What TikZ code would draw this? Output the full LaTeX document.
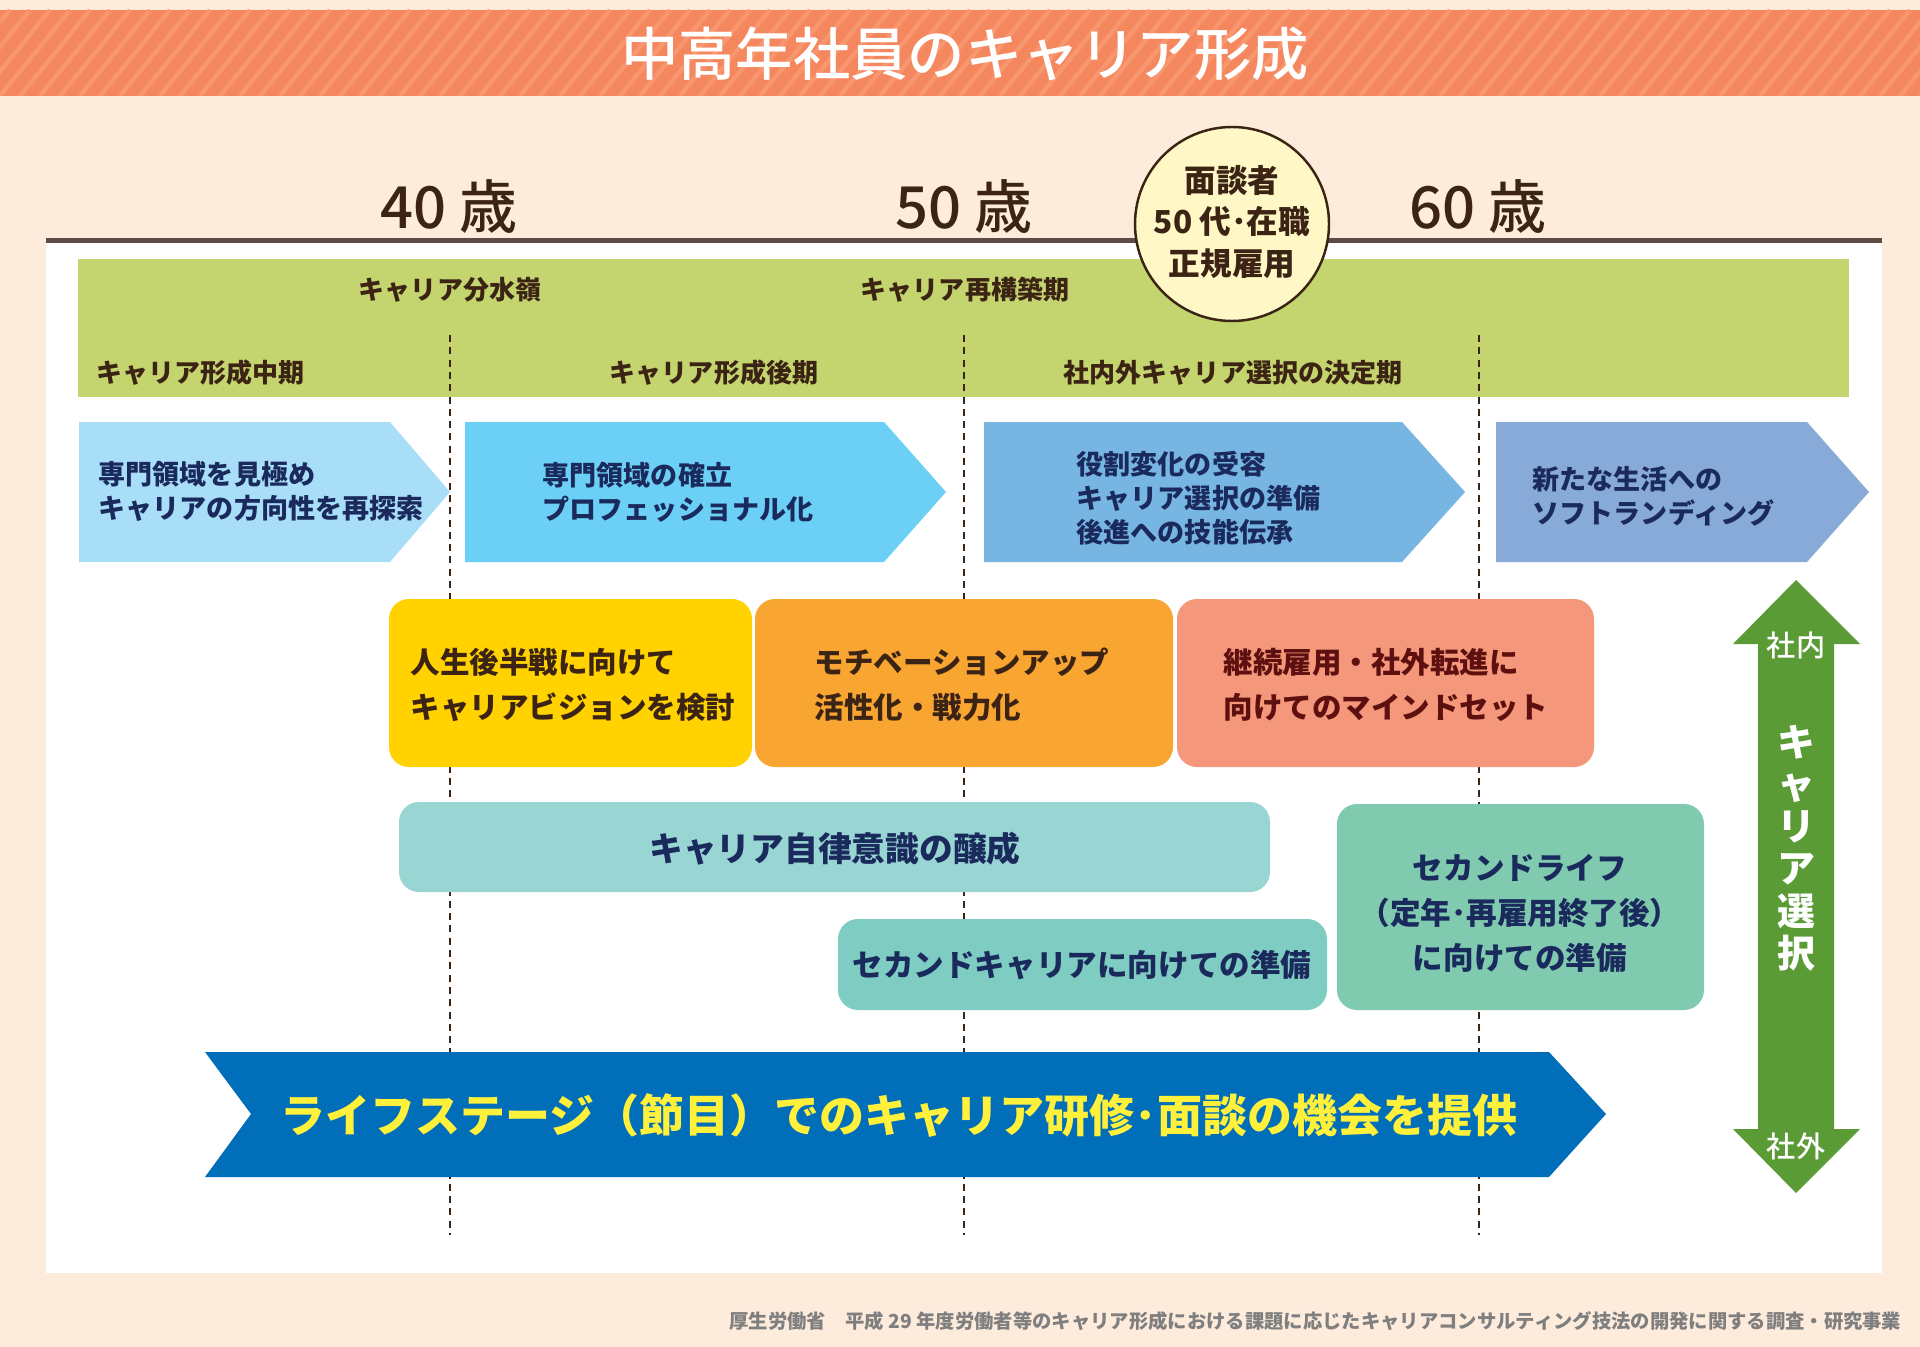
\documentclass[tikz,border=0pt]{standalone}
\usepackage{fontspec}
\setmainfont{Noto Sans CJK JP}
\newfontfamily\medio{Noto Sans CJK JP Medium}

\definecolor{crema}{HTML}{FDEBDC}
\definecolor{salmon}{HTML}{F5875F}
\definecolor{franjaclara}{HTML}{F7966F}
\definecolor{marron}{HTML}{3C2415}
\definecolor{linea}{HTML}{5B4C44}
\definecolor{verdebanda}{HTML}{C4D46E}
\definecolor{amarilloclaro}{HTML}{FFF8C6}
\definecolor{celeste1}{HTML}{A8DEF7}
\definecolor{celeste2}{HTML}{6CCFF5}
\definecolor{celeste3}{HTML}{77B5E2}
\definecolor{celeste4}{HTML}{88AAD8}
\definecolor{azultexto}{HTML}{1B2A5C}
\definecolor{amarillo}{HTML}{FFD200}
\definecolor{naranja}{HTML}{F9A532}
\definecolor{rosa}{HTML}{F5977A}
\definecolor{granate}{HTML}{5E1010}
\definecolor{turquesa1}{HTML}{98D5D3}
\definecolor{turquesa2}{HTML}{7FCDC2}
\definecolor{turquesa3}{HTML}{80CBAF}
\definecolor{azulfuerte}{HTML}{006EB8}
\definecolor{amarillotexto}{HTML}{FFF03C}
\definecolor{verde}{HTML}{5B9B36}
\definecolor{gristexto}{HTML}{7F7F7F}

\tikzset{
  txtbanda/.style={font=\bfseries\fontsize{7.4pt}{9pt}\selectfont, text=marron, inner sep=0pt},
  txtedad/.style={font=\medio\fontsize{16.5pt}{18pt}\selectfont, text=marron, inner sep=0pt},
  txtflecha/.style={font=\bfseries\fontsize{7.7pt}{9.7pt}\selectfont, text=azultexto, align=left, anchor=west, inner sep=0pt},
  txtcaja/.style={font=\bfseries\fontsize{8.4pt}{12.8pt}\selectfont, align=left, anchor=west, inner sep=0pt},
  caja/.style={rounded corners=2mm},
  guia/.style={marron, line width=0.4pt, dash pattern=on 2pt off 1.5pt}
}

\begin{document}
\begin{tikzpicture}[x=0.1mm,y=-0.1mm]
    % Fondo
    \fill[crema] (0,0) rectangle (1920,1347);
    \useasboundingbox (0,0) rectangle (1920,1347);

    % Banda del titulo
    \fill[salmon] (0,10) rectangle (1920,96);
    \begin{scope}
        \clip (0,10) rectangle (1920,96);
        \foreach \x in {-100,-80,...,1940}
            \draw[franjaclara, line width=0.45mm] (\x,96) -- (\x+70,10);
    \end{scope}
    \node[font=\medio\fontsize{16.3pt}{18pt}\selectfont, text=white, inner sep=0pt] (titulo) at (965,54) {中高年社員のキャリア形成};

    % Panel blanco y linea de edades
    \fill[white] (46,241) rectangle (1882,1273);
    \draw[linea, line width=0.5mm] (46,241) -- (1882,241);
    \node[txtedad] (edad40) at (449,207) {40 歳};
    \node[txtedad] (edad50) at (964,207) {50 歳};
    \node[txtedad] (edad60) at (1478,207) {60 歳};

    % Banda verde
    \fill[verdebanda] (78,259) rectangle (1849,397);
    \node[txtbanda] (bunsui) at (450,290) {キャリア分水嶺};
    \node[txtbanda] (saikochiku) at (965,290) {キャリア再構築期};
    \node[txtbanda, anchor=west] (chuki) at (96,373) {キャリア形成中期};
    \node[txtbanda] (koki) at (714,373) {キャリア形成後期};
    \node[txtbanda] (ketteiki) at (1233,373) {社内外キャリア選択の決定期};

    % Guias de edad
    \foreach \x in {450,964,1479}
        \draw[guia] (\x,335) -- (\x,1235);

    % Circulo de entrevistados
    \draw[marron, fill=amarilloclaro, line width=0.7pt] (1232,224) circle[radius=9.7mm];
    \node[font=\bfseries\fontsize{9pt}{11.7pt}\selectfont, text=marron, align=center, inner sep=0pt] (mendansha) at (1232,222) {面談者\\50 代･在職\\正規雇用};

    % Flechas de etapas
    \fill[celeste1] (79,422) -- (390,422) -- (450,492) -- (390,562) -- (79,562) -- cycle;
    \fill[celeste2] (465,422) -- (884,422) -- (946,492) -- (884,562) -- (465,562) -- cycle;
    \fill[celeste3] (984,422) -- (1402,422) -- (1465,492) -- (1402,562) -- (984,562) -- cycle;
    \fill[celeste4] (1496,422) -- (1807,422) -- (1869,492) -- (1807,562) -- (1496,562) -- cycle;
    \node[txtflecha] (etapa1) at (98,491) {専門領域を見極め\\キャリアの方向性を再探索};
    \node[txtflecha] (etapa2) at (542,492) {専門領域の確立\\プロフェッショナル化};
    \node[txtflecha] (etapa3) at (1076,498) {役割変化の受容\\キャリア選択の準備\\後進への技能伝承};
    \node[txtflecha] (etapa4) at (1532,496) {新たな生活への\\ソフトランディング};

    % Cajas de objetivos
    \fill[caja, amarillo] (389,599) rectangle (752,767);
    \fill[caja, naranja] (755,599) rectangle (1173,767);
    \fill[caja, rosa] (1177,599) rectangle (1594,767);
    \node[txtcaja, text=marron] (vision) at (410,685) {人生後半戦に向けて\\キャリアビジョンを検討};
    \node[txtcaja, text=marron] (motivacion) at (814,685) {モチベーションアップ\\活性化・戦力化};
    \node[txtcaja, text=granate] (mindset) at (1223,685) {継続雇用・社外転進に\\向けてのマインドセット};

    % Cajas de preparacion
    \fill[caja, turquesa1] (399,802) rectangle (1270,892);
    \fill[caja, turquesa2] (838,919) rectangle (1327,1010);
    \fill[caja, turquesa3] (1337,804) rectangle (1704,1010);
    \node[font=\bfseries\fontsize{9.6pt}{11pt}\selectfont, text=azultexto, inner sep=0pt] (jiritsu) at (835,849) {キャリア自律意識の醸成};
    \node[font=\bfseries\fontsize{8.7pt}{11pt}\selectfont, text=azultexto, inner sep=0pt] (secondcareer) at (1082,965) {セカンドキャリアに向けての準備};
    \node[font=\bfseries\fontsize{8.7pt}{12.8pt}\selectfont, text=azultexto, align=center, inner sep=0pt] (secondlife) at (1520,913) {セカンドライフ\\（定年･再雇用終了後）\\に向けての準備};

    % Flecha grande
    \fill[azulfuerte] (205,1052) -- (1549,1052) -- (1606,1114) -- (1549,1177) -- (205,1177) -- (251,1114) -- cycle;
    \node[font=\bfseries\fontsize{12.8pt}{15pt}\selectfont, text=amarillotexto, inner sep=0pt] (kikai) at (899,1116) {ライフステージ（節目）でのキャリア研修･面談の機会を提供};

    % Flecha doble de seleccion
    \fill[verde] (1796,580) -- (1860,644) -- (1834,644) -- (1834,1129) -- (1860,1129) -- (1796,1193)
        -- (1733,1129) -- (1758,1129) -- (1758,644) -- (1733,644) -- cycle;
    \node[font=\medio\fontsize{8.3pt}{10pt}\selectfont, text=white, inner sep=0pt] (shanai) at (1796,645) {社内};
    \node[font=\medio\fontsize{8.3pt}{10pt}\selectfont, text=white, inner sep=0pt] (shagai) at (1796,1146) {社外};
    \node[font=\bfseries\fontsize{10.8pt}{12pt}\selectfont, text=white, align=center, inner sep=0pt] (sentaku) at (1796,848) {キ\\ャ\\リ\\ア\\選\\択};

    % Fuente
    \node[font=\bfseries\fontsize{5.5pt}{7pt}\selectfont, text=gristexto, anchor=east, inner sep=0pt] (fuente) at (1902,1321) {厚生労働省　平成 29 年度労働者等のキャリア形成における課題に応じたキャリアコンサルティング技法の開発に関する調査・研究事業};
\end{tikzpicture}
\end{document}
